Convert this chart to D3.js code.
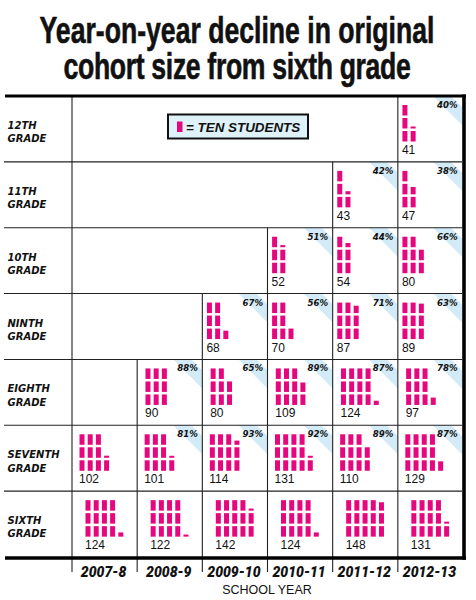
<!DOCTYPE html>
<html>
<head>
<meta charset="utf-8">
<script src="https://cdn.jsdelivr.net/npm/d3@7"></script>
<style>
  body { margin: 0; background: #fff; }
  svg { display: block; }
</style>
</head>
<body>
<div id="chart"></div>
<script>
// ---- data ----
const years = ["2007-8", "2008-9", "2009-10", "2010-11", "2011-12", "2012-13"];
const gradeKeys = ["12", "11", "10", "9", "8", "7", "6"];
const gradeLabels = [["12TH", "GRADE"], ["11TH", "GRADE"], ["10TH", "GRADE"], ["NINTH", "GRADE"],
                     ["EIGHTH", "GRADE"], ["SEVENTH", "GRADE"], ["SIXTH", "GRADE"]];

// students enrolled in each grade, per school year (null = cohort not shown)
const students12 = [null, null, null, null, null, 41];
const students11 = [null, null, null, null, 43, 47];
const students10 = [null, null, null, 52, 54, 80];
const students9  = [null, null, 68, 70, 87, 89];
const students8  = [null, 90, 80, 109, 124, 97];
const students7  = [102, 101, 114, 131, 110, 129];
const students6  = [124, 122, 142, 124, 148, 131];

// share of the original cohort still enrolled (%)
const share12 = [null, null, null, null, null, 40];
const share11 = [null, null, null, null, 42, 38];
const share10 = [null, null, null, 51, 44, 66];
const share9  = [null, null, 67, 56, 71, 63];
const share8  = [null, 88, 65, 89, 87, 78];
const share7  = [null, 81, 93, 92, 89, 87];
const share6  = [null, null, null, null, null, null];

const titleLines = ["Year-on-year decline in original", "cohort size from sixth grade"];
const legendText = "= TEN STUDENTS";
const axisTitle = "SCHOOL YEAR";
const studentsPerBar = 10;
const barsPerColumn = 3;

const studentRows = [students12, students11, students10, students9, students8, students7, students6];
const shareRows = [share12, share11, share10, share9, share8, share7, share6];

// ---- layout ----
const W = 476, H = 600;
const PINK = "#e6077f";
const STRIPE = "#d3ebf7";
const heavy = "Roboto, 'DejaVu Sans', sans-serif";
const boldObl = "'DejaVu Sans', sans-serif";

const svg = d3.select("#chart").append("svg").attr("width", W).attr("height", H);

const x = d3.scaleBand().domain(years).range([72, 463]).padding(0);
const y = d3.scaleBand().domain(gradeKeys).range([96, 557]).padding(0);
const barLen = d3.scaleLinear().domain([0, studentsPerBar]).range([0, 10.5]);

const gridRight = 462;
const colPitch = 8.2, barW = 5, slotPitch = 13, barBase = 45.5;
// horizontal inset of the pictograph inside a cell, per grade row
const insetFor = g => g === "6" ? 13.5 : g === "7" ? 7.5 : g === "8" ? 8.3 : 4.6;

// title: one text block, condensed horizontally so line 1 spans 395px
const titleWidths = [395, 347];
const title = svg.append("text")
  .attr("text-anchor", "middle")
  .attr("font-family", "'Liberation Sans Narrow', 'Liberation Sans', sans-serif")
  .attr("font-weight", 700)
  .attr("font-size", 37)
  .attr("fill", "#111")
  .attr("stroke", "#111").attr("stroke-width", 0.6);
const spans = titleLines.map((line, i) =>
  title.append("tspan").attr("x", 0).attr("y", 43 + i * 36).text(line));
const natural = spans.map(s => s.node().getComputedTextLength());
const sx = titleWidths[0] / natural[0];
// even out line 2 to its own width via letter spacing
const extra = (titleWidths[1] / sx - natural[1]) / titleLines[1].length;
spans[1].attr("letter-spacing", extra);
title.attr("transform", `translate(237,0) scale(${sx},1)`);

// cells
const cells = [];
gradeKeys.forEach((g, i) => {
  years.forEach((yr, j) => {
    const v = studentRows[i][j];
    if (v != null) cells.push({ grade: g, year: yr, value: v, share: shareRows[i][j] });
  });
});

// diagonal corner stripe behind the percentage labels
const stripeG = svg.append("g");
cells.filter(c => c.share != null).forEach(c => {
  const l = x(c.year), t = y(c.grade);
  const r = Math.min(l + x.bandwidth(), gridRight);
  const d1 = 11, d2 = 29;
  stripeG.append("polygon")
    .attr("points", [[r - d2, t], [r - d1, t], [r, t + d1], [r, t + d2]].map(p => p.join(",")).join(" "))
    .attr("fill", STRIPE);
});

// grid lines
const grid = svg.append("g").attr("stroke", "#222").attr("stroke-width", 1.1);
gradeKeys.slice(1).forEach(g => {
  grid.append("line").attr("x1", 4).attr("x2", gridRight).attr("y1", y(g)).attr("y2", y(g));
});
// left edge of the label column
grid.append("line").attr("x1", x(years[0])).attr("x2", x(years[0])).attr("y1", 96).attr("y2", 572);
years.slice(1).forEach((yr, jj) => {
  const j = jj + 1;
  const firstRow = gradeKeys.findIndex((g, i) => studentRows[i][j] != null);
  const top = y(gradeKeys[firstRow]);
  grid.append("line").attr("x1", x(yr)).attr("x2", x(yr)).attr("y1", top).attr("y2", 572);
});

// heavy frame: top rule, bottom rule, right border
const frame = svg.append("g").attr("stroke", "#000");
frame.append("line").attr("x1", 5).attr("x2", 466).attr("y1", 96).attr("y2", 96).attr("stroke-width", 3.2);
frame.append("line").attr("x1", 5).attr("x2", 466).attr("y1", 558).attr("y2", 558).attr("stroke-width", 3.6);
frame.append("line").attr("x1", 464).attr("x2", 464).attr("y1", 94.4).attr("y2", 559.8).attr("stroke-width", 3.6);

// pictograph bars
const barsG = svg.append("g").attr("fill", PINK);
cells.forEach(c => {
  const l = x(c.year) + insetFor(c.grade), t = y(c.grade);
  const n = Math.ceil(c.value / studentsPerBar);
  const bars = d3.range(n).map(k => ({
    col: Math.floor(k / barsPerColumn),
    slot: k % barsPerColumn,
    size: Math.min(studentsPerBar, c.value - k * studentsPerBar)
  }));
  barsG.selectAll(null).data(bars).join("rect")
    .attr("x", b => l + b.col * colPitch)
    .attr("width", barW)
    .attr("height", b => Math.max(2, barLen(b.size)))
    .attr("y", b => t + barBase - b.slot * slotPitch - Math.max(2, barLen(b.size)));
  svg.append("text")
    .attr("x", l - 0.5).attr("y", t + 58)
    .attr("font-family", "'Liberation Sans', Arial, sans-serif")
    .attr("font-size", 12).attr("fill", "#111")
    .text(c.value);
  if (c.share != null) {
    const r = Math.min(x(c.year) + x.bandwidth(), gridRight);
    svg.append("text")
      .attr("x", r - 4.5).attr("y", t + 12)
      .attr("text-anchor", "end")
      .attr("font-family", boldObl).attr("font-weight", 700).attr("font-style", "italic")
      .attr("font-size", 8.6).attr("fill", "#111")
      .text(c.share + "%");
  }
});

// grade labels
const rowLab = svg.append("g");
gradeKeys.forEach((g, i) => {
  const t = rowLab.append("text")
    .attr("font-family", boldObl).attr("font-weight", 700).attr("font-style", "italic")
    .attr("font-size", 10).attr("fill", "#111");
  gradeLabels[i].forEach((s, k) => {
    t.append("tspan").attr("x", 7.5).attr("y", y(g) + 33 + k * 13.3).text(s);
  });
});

// legend
const lg = svg.append("g");
lg.append("rect").attr("x", 168).attr("y", 114.5).attr("width", 140).attr("height", 24)
  .attr("fill", "#dff2fa").attr("stroke", "#111").attr("stroke-width", 2);
lg.append("rect").attr("x", 177).attr("y", 121.5).attr("width", barW + 0.5).attr("height", barLen(studentsPerBar))
  .attr("fill", PINK);
lg.append("text").attr("x", 186).attr("y", 131.5)
  .attr("font-family", "'Liberation Sans', Arial, sans-serif").attr("font-weight", 700).attr("font-style", "italic")
  .attr("font-size", 13.4).attr("fill", "#111").text(legendText);

// year axis
const axis = svg.append("g").attr("transform", "translate(0,577)")
  .call(d3.axisBottom(x).tickSize(0).tickPadding(0));
axis.select(".domain").remove();
axis.selectAll("text")
  .attr("dy", 0).attr("dx", -1)
  .attr("font-family", heavy).attr("font-weight", 900).attr("font-style", "italic")
  .attr("font-size", 14).attr("fill", "#111");

svg.append("text").attr("x", 267).attr("y", 593.5).attr("text-anchor", "middle")
  .attr("font-family", "'Liberation Sans', Arial, sans-serif").attr("font-size", 12.5)
  .attr("fill", "#111").text(axisTitle);
</script>
</body>
</html>
